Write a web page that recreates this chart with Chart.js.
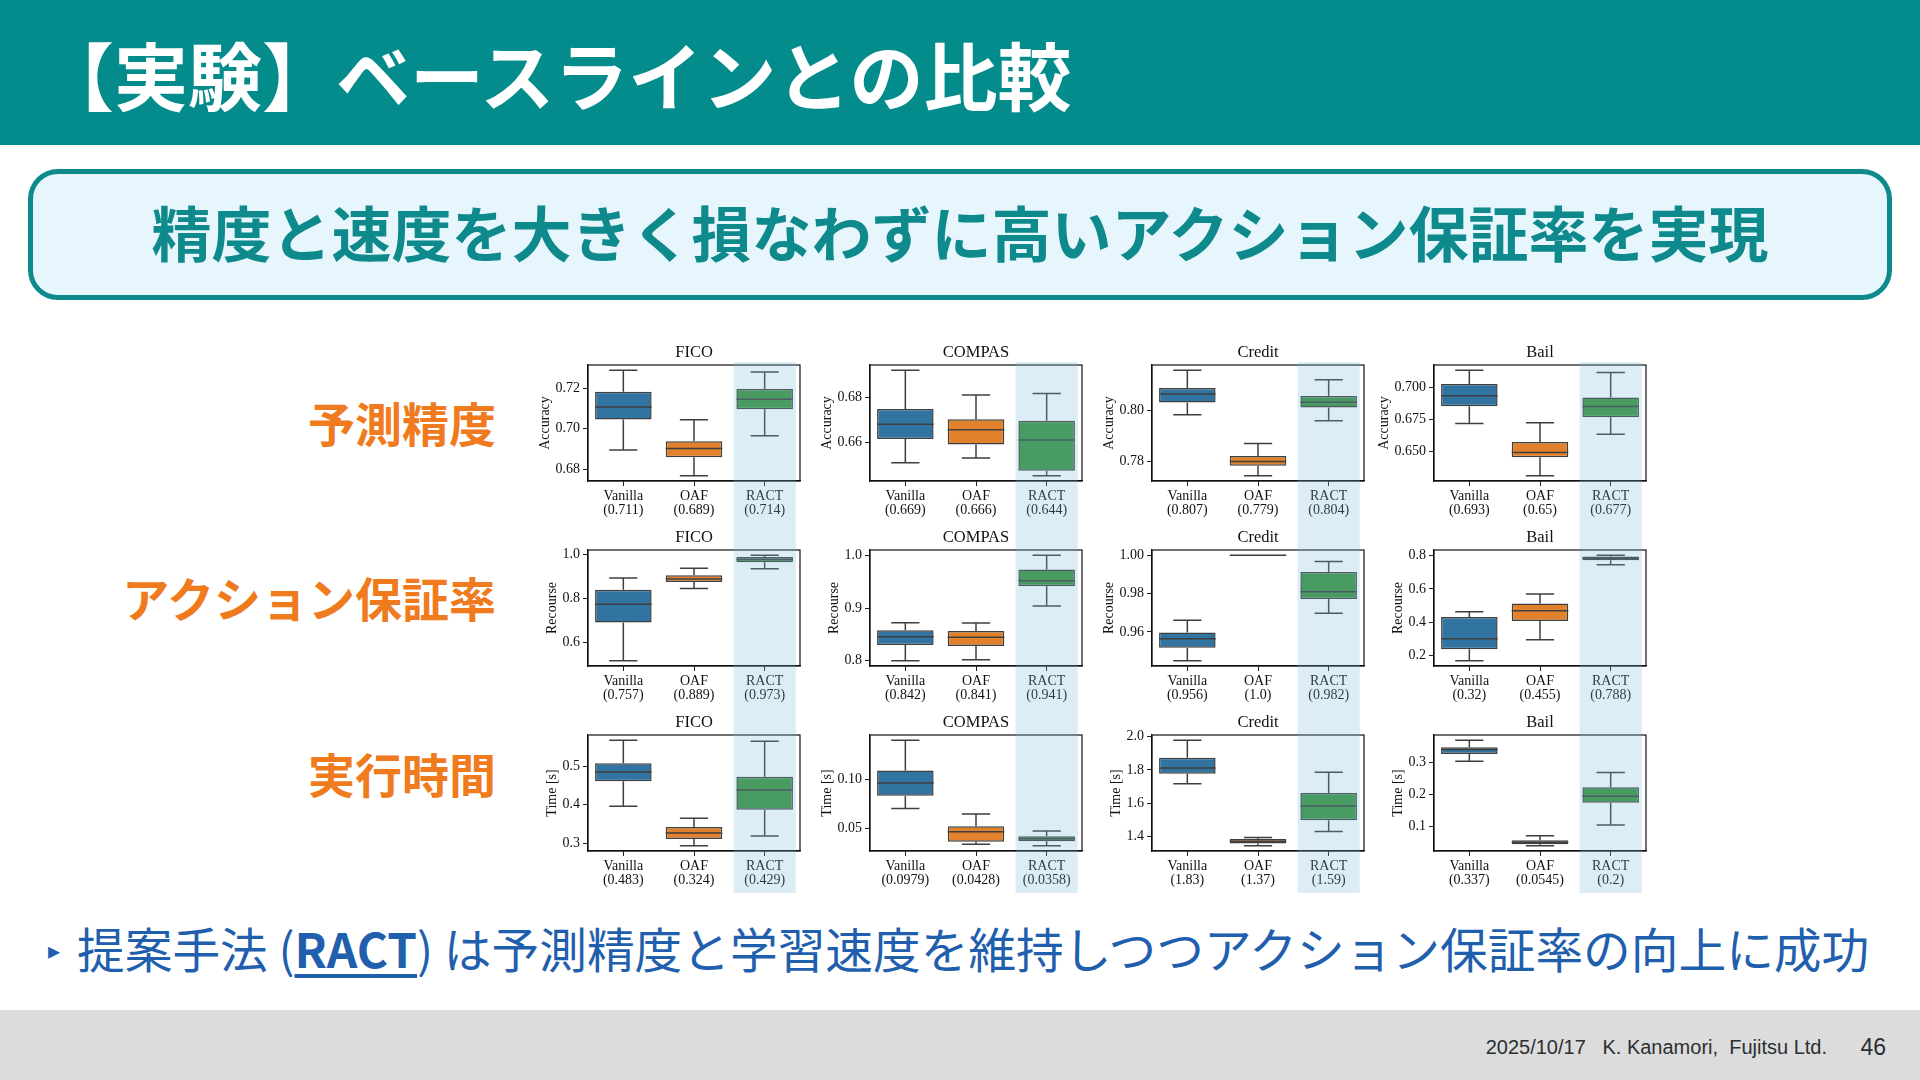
<!DOCTYPE html>
<html lang="ja">
<head>
<meta charset="utf-8">
<title>【実験】ベースラインとの比較</title>
<script src="https://cdn.jsdelivr.net/npm/chart.js@4.4.1/dist/chart.umd.min.js"></script>
<style>
html,body{margin:0;padding:0;}
body{width:1920px;height:1080px;position:relative;overflow:hidden;background:#fff;font-family:'Noto Sans CJK JP','Noto Sans',sans-serif;}
#header{position:absolute;left:0;top:0;width:1920px;height:145px;background:#048b8c;}
#title{position:absolute;left:40px;top:0;height:145px;line-height:145px;font-size:74px;font-weight:700;color:#fff;white-space:nowrap;}
#sub{position:absolute;left:28px;top:169px;width:1854px;height:121px;border:5px solid #0e8a8c;border-radius:30px;background:#e7f6fc;box-sizing:content-box;}
#subtext{position:absolute;left:0;top:0;width:100%;line-height:114px;text-align:center;font-size:60px;font-weight:700;color:#0e8a8c;white-space:nowrap;}
.rowlabel{position:absolute;right:1424px;font-size:47px;line-height:60px;font-weight:700;color:#ef7b1e;white-space:nowrap;text-align:right;}
#bullet{position:absolute;left:77px;top:918px;font-size:47.7px;line-height:60px;color:#1f5fae;white-space:nowrap;}
#bullet b{font-weight:700;text-decoration:underline;text-decoration-thickness:4px;text-underline-offset:6px;}
#tri{position:absolute;left:48px;top:934px;font-size:24px;line-height:30px;color:#1f5fae;}
#footer{position:absolute;left:0;top:1010px;width:1920px;height:70px;background:#dcdcdc;}
#foottext{position:absolute;right:93px;top:1035px;font-family:'Liberation Sans',Arial,sans-serif;font-size:20px;line-height:24px;color:#2a2f33;white-space:pre;}
#pageno{position:absolute;right:34px;top:1033px;font-family:'Liberation Sans',Arial,sans-serif;font-size:23px;line-height:28px;color:#2a2f33;}
canvas.panel{position:absolute;}
</style>
</head>
<body>
<div id="header"><div id="title">【実験】ベースラインとの比較</div></div>
<div id="sub"><div id="subtext">精度と速度を大きく損なわずに高いアクション保証率を実現</div></div>
<div class="rowlabel" style="top:392px;">予測精度</div>
<div class="rowlabel" style="top:567px;">アクション保証率</div>
<div class="rowlabel" style="top:743px;">実行時間</div>
<div id="tri">▸</div>
<div id="bullet">提案手法 (<b>RACT</b>) は予測精度と学習速度を維持しつつアクション保証率の向上に成功</div>
<div id="footer"></div>
<div id="foottext">2025/10/17   K. Kanamori,  Fujitsu Ltd.</div>
<div id="pageno">46</div>

<script>
// ---------------- DATA ----------------
const methods = ['Vanilla', 'OAF', 'RACT'];
const datasetNames = ['FICO', 'COMPAS', 'Credit', 'Bail'];
const metricLabels = ['Accuracy', 'Recourse', 'Time [s]'];
const highlightMethod = 'RACT';

// box statistics per method: [lower whisker, Q1, median, Q3, upper whisker]
const accFICO   = [[0.6894,0.7045,0.7107,0.7182,0.7288],[0.6767,0.6858,0.6901,0.6937,0.7043],[0.6965,0.7096,0.7145,0.7195,0.7279]];
const accCOMPAS = [[0.6510,0.6615,0.6680,0.6748,0.6919],[0.6530,0.6590,0.6656,0.6702,0.6809],[0.6452,0.6474,0.6610,0.6695,0.6816]];
const accCredit = [[0.7984,0.8032,0.8066,0.8089,0.8159],[0.7745,0.7784,0.7801,0.7822,0.7872],[0.7961,0.8013,0.8033,0.8058,0.8122]];
const accBail   = [[0.6718,0.6852,0.6933,0.7023,0.7130],[0.6313,0.6456,0.6492,0.6575,0.6723],[0.6635,0.6767,0.6850,0.6920,0.7112]];

const recFICO   = [[0.5159,0.6900,0.7740,0.8397,0.8931],[0.8458,0.8748,0.8885,0.9053,0.9374],[0.9359,0.9649,0.9771,0.9893,0.9969]];
const recCOMPAS = [[0.8000,0.8298,0.8456,0.8576,0.8722],[0.8019,0.8279,0.8443,0.8563,0.8715],[0.9038,0.9411,0.9519,0.9728,1.0000]];
const recCredit = [[0.9450,0.9518,0.9565,0.9597,0.9661],[1.0000,1.0000,1.0000,1.0000,1.0000],[0.9697,0.9772,0.9810,0.9913,0.9967]];
const recBail   = [[0.1676,0.2361,0.3005,0.4314,0.4617],[0.2945,0.4073,0.4677,0.5120,0.5684],[0.7456,0.7718,0.7839,0.7940,0.8020]];

const timeFICO   = [[0.3957,0.4609,0.4852,0.5078,0.5678],[0.2930,0.3104,0.3261,0.3417,0.3643],[0.3183,0.3870,0.4383,0.4730,0.5652]];
const timeCOMPAS = [[0.0701,0.0830,0.0959,0.1088,0.1394],[0.0337,0.0364,0.0466,0.0520,0.0646],[0.0323,0.0368,0.0395,0.0419,0.0473]];
const timeCredit = [[1.718,1.778,1.812,1.874,1.978],[1.346,1.360,1.373,1.386,1.396],[1.432,1.498,1.584,1.662,1.786]];
const timeBail   = [[0.3031,0.3258,0.3392,0.3464,0.3680],[0.0412,0.0454,0.0516,0.0578,0.0722],[0.1052,0.1742,0.1948,0.2227,0.2680]];

// means shown under tick labels
const accFICOMean   = ['0.711','0.689','0.714'];
const accCOMPASMean = ['0.669','0.666','0.644'];
const accCreditMean = ['0.807','0.779','0.804'];
const accBailMean   = ['0.693','0.65','0.677'];
const recFICOMean   = ['0.757','0.889','0.973'];
const recCOMPASMean = ['0.842','0.841','0.941'];
const recCreditMean = ['0.956','1.0','0.982'];
const recBailMean   = ['0.32','0.455','0.788'];
const timeFICOMean   = ['0.483','0.324','0.429'];
const timeCOMPASMean = ['0.0979','0.0428','0.0358'];
const timeCreditMean = ['1.83','1.37','1.59'];
const timeBailMean   = ['0.337','0.0545','0.2'];

// y tick labels
const accFICOTicks   = ['0.68','0.70','0.72'];
const accCOMPASTicks = ['0.66','0.68'];
const accCreditTicks = ['0.78','0.80'];
const accBailTicks   = ['0.650','0.675','0.700'];
const recFICOTicks   = ['0.6','0.8','1.0'];
const recCOMPASTicks = ['0.8','0.9','1.0'];
const recCreditTicks = ['0.96','0.98','1.00'];
const recBailTicks   = ['0.2','0.4','0.6','0.8'];
const timeFICOTicks   = ['0.3','0.4','0.5'];
const timeCOMPASTicks = ['0.05','0.10'];
const timeCreditTicks = ['1.4','1.6','1.8','2.0'];
const timeBailTicks   = ['0.1','0.2','0.3'];

const gridStats = [[accFICO,accCOMPAS,accCredit,accBail],[recFICO,recCOMPAS,recCredit,recBail],[timeFICO,timeCOMPAS,timeCredit,timeBail]];
const gridMeans = [[accFICOMean,accCOMPASMean,accCreditMean,accBailMean],[recFICOMean,recCOMPASMean,recCreditMean,recBailMean],[timeFICOMean,timeCOMPASMean,timeCreditMean,timeBailMean]];
const gridTicks = [[accFICOTicks,accCOMPASTicks,accCreditTicks,accBailTicks],[recFICOTicks,recCOMPASTicks,recCreditTicks,recBailTicks],[timeFICOTicks,timeCOMPASTicks,timeCreditTicks,timeBailTicks]];

// ---------------- STYLE / LAYOUT ----------------
const boxColors = ['#3274a1', '#e1812c', '#3a923a'];
const edgeColor = '#3f3f3f';
const serif = "'Liberation Serif', 'DejaVu Serif', serif";
const axesLefts = [588, 870, 1152, 1434];
const axesTops = [365, 550, 735];
const axesW = 212, axesH = 116;
const yAxisW = 80, titleH = 30, padRight = 8;
const rowCanvasH = [185, 185, 188];

Chart.defaults.font.family = serif;
Chart.defaults.color = '#111';

const boxPlugin = {
  id: 'boxdraw',
  afterDatasetsDraw(chart, args, o) {
    const {ctx, chartArea: a, scales: {x, y}} = chart;
    const meta = chart.getDatasetMeta(0);
    ctx.save();
    ctx.strokeStyle = edgeColor;
    ctx.lineWidth = 1.5;
    o.stats.forEach((s, i) => {
      const cx = x.getPixelForValue(i);
      const bw = meta.data[i].width;
      const [mn, q1, md, q3, mx] = s.map(v => y.getPixelForValue(v));
      ctx.beginPath();
      ctx.moveTo(cx, q1); ctx.lineTo(cx, mn);
      ctx.moveTo(cx, q3); ctx.lineTo(cx, mx);
      ctx.moveTo(cx - bw / 4, mn); ctx.lineTo(cx + bw / 4, mn);
      ctx.moveTo(cx - bw / 4, mx); ctx.lineTo(cx + bw / 4, mx);
      ctx.moveTo(cx - bw / 2, md); ctx.lineTo(cx + bw / 2, md);
      ctx.stroke();
    });
    ctx.strokeStyle = '#111';
    ctx.lineWidth = 1.2;
    ctx.strokeRect(a.left, a.top, a.right - a.left, a.bottom - a.top);
    ctx.restore();
  },
  afterDraw(chart, args, o) {
    const {ctx, chartArea: a, scales: {x, y}} = chart;
    // panel title centred over the axes
    ctx.save();
    ctx.font = '16.5px ' + serif;
    ctx.fillStyle = '#111';
    ctx.textAlign = 'center';
    ctx.textBaseline = 'middle';
    ctx.fillText(o.title, (a.left + a.right) / 2, a.top - 12);
    ctx.restore();
    // y-axis label, placed next to the tick labels
    ctx.save();
    ctx.font = '14px ' + serif;
    const maxW = Math.max(...o.tickLabels.map(t => ctx.measureText(t).width));
    const tx = a.left - 5 - 3 - maxW - 10;
    ctx.translate(tx, (a.top + a.bottom) / 2);
    ctx.rotate(-Math.PI / 2);
    ctx.fillStyle = '#111';
    ctx.textAlign = 'center';
    ctx.textBaseline = 'middle';
    ctx.fillText(o.ylabel, 0, 0);
    ctx.restore();
    // highlighted method column
    ctx.save();
    const hi = methods.indexOf(highlightMethod);
    const x0 = x.getPixelForValue(hi - 0.44), x1 = x.getPixelForValue(hi + 0.44);
    const top = o.firstRow ? a.top - 3 : 0;
    ctx.fillStyle = 'rgba(115,185,215,0.25)';
    ctx.fillRect(x0, top, x1 - x0, chart.height - top);
    ctx.restore();
  }
};

for (let r = 0; r < 3; r++) {
  for (let c = 0; c < 4; c++) {
    const stats = gridStats[r][c];
    const means = gridMeans[r][c];
    const tickLabels = gridTicks[r][c];
    const tickValues = tickLabels.map(Number);
    const lo = Math.min(...stats.map(s => s[0]));
    const hi = Math.max(...stats.map(s => s[4]));
    const margin = (hi - lo) * 0.05;
    const cw = yAxisW + axesW + padRight;
    const chH = rowCanvasH[r];
    const xH = chH - titleH - axesH;

    const cv = document.createElement('canvas');
    cv.className = 'panel';
    cv.width = cw; cv.height = chH;
    cv.style.left = (axesLefts[c] - yAxisW) + 'px';
    cv.style.top = (axesTops[r] - titleH) + 'px';
    cv.style.width = cw + 'px'; cv.style.height = chH + 'px';
    document.body.appendChild(cv);

    new Chart(cv, {
      type: 'bar',
      data: {
        labels: methods.map((m, i) => [m, '(' + means[i] + ')']),
        datasets: [{
          data: stats.map(s => [s[1], s[3]]),
          backgroundColor: boxColors,
          borderColor: edgeColor,
          borderWidth: 1.5,
          borderSkipped: false,
          barPercentage: 0.8,
          categoryPercentage: 1.0
        }]
      },
      options: {
        responsive: false,
        animation: false,
        devicePixelRatio: 1,
        layout: {padding: {left: 0, right: padRight, top: titleH, bottom: 0}},
        plugins: {
          legend: {display: false},
          tooltip: {enabled: false},
          title: {display: false},
          boxdraw: {stats: stats, title: datasetNames[c], ylabel: metricLabels[r], tickLabels: tickLabels, firstRow: r === 0}
        },
        scales: {
          x: {
            offset: true,
            grid: {offset: false, drawOnChartArea: false, drawTicks: true, tickLength: 5, color: '#222', lineWidth: 1},
            border: {display: true, color: '#111', width: 1.2},
            ticks: {font: {family: serif, size: 14, lineHeight: 1.03}, color: '#111', padding: 3, maxRotation: 0, autoSkip: false},
            afterFit: s => { s.height = xH; }
          },
          y: {
            min: lo - margin, max: hi + margin,
            grid: {drawOnChartArea: false, drawTicks: true, tickLength: 5, color: '#222', lineWidth: 1},
            border: {display: true, color: '#111', width: 1.2},
            ticks: {font: {family: serif, size: 14}, color: '#111', padding: 3,
                    callback: (v, i) => tickLabels[i]},
            afterBuildTicks: s => { s.ticks = tickValues.map(v => ({value: v})); },
            afterFit: s => { s.width = yAxisW; }
          }
        }
      },
      plugins: [boxPlugin]
    });
  }
}
</script>
</body>
</html>
